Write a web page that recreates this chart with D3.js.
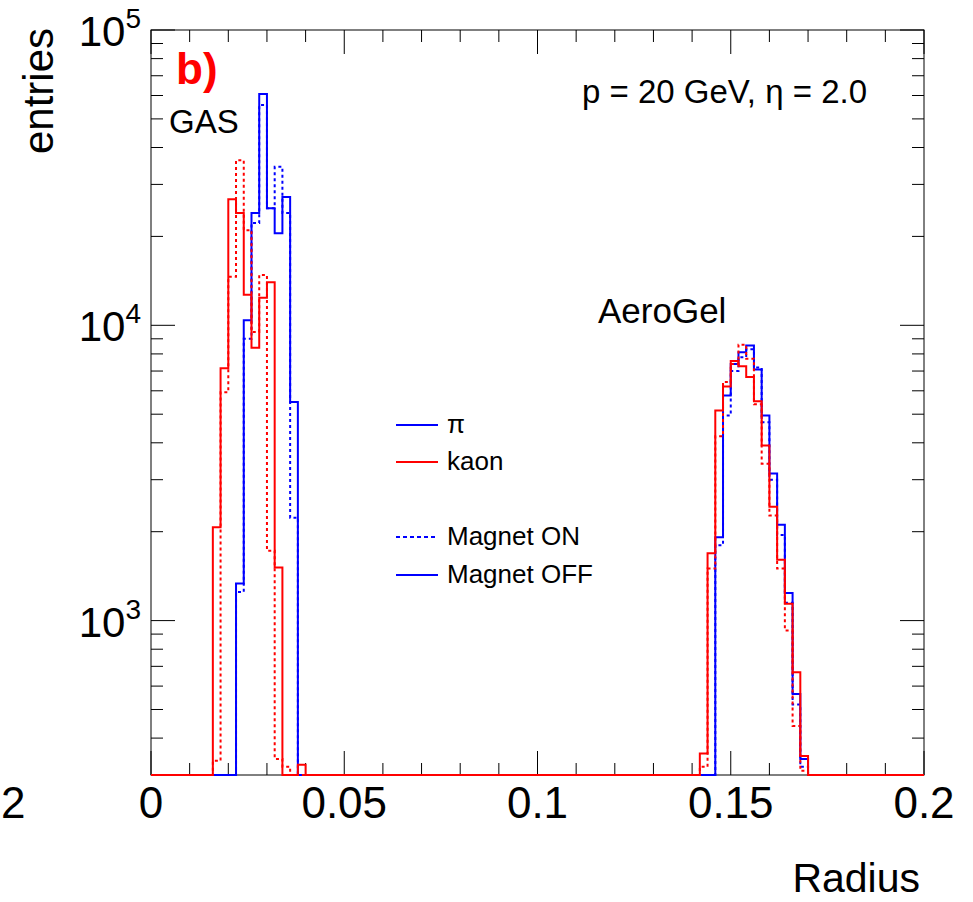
<!DOCTYPE html>
<meta charset="utf-8">
<head>
<script src="https://cdnjs.cloudflare.com/ajax/libs/d3/7.8.5/d3.min.js"></script>
<style>
body { margin:0; background:#fff; }
svg text { font-family: "Liberation Sans", Arial, Helvetica, sans-serif; fill:#000; }
</style>
</head>
<body>
<div id="chart"></div>
<script>
// histogram binning (100 bins of 0.002 from 0 to 0.2)
var binWidth = 0.002;
var nBins = 100;

// GAS ring, first bin starts at 0.016
var gasStart = 0.016;
var gasPiOff   = [0, 0, 0, 1335, 10400, 24000, 60700, 24900, 20500, 27200, 5500, 0];
var gasPiOn    = [0, 0, 0, 1250, 9000, 22200, 55700, 24900, 34400, 24000, 2230, 0];
var gasKaonOff = [2070, 7150, 26700, 24000, 12700, 8400, 12400, 14000, 1514, 0, 0, 325];
var gasKaonOn  = [335, 5930, 14600, 36200, 21000, 9500, 14800, 1725, 340, 320, 0, 0];

// AeroGel ring, first bin starts at 0.142
var aeroStart = 0.142;
var aeroPiOff   = [0, 0, 1915, 5790, 7400, 8100, 8550, 7080, 4950, 3150, 2110, 1240, 564, 340];
var aeroPiOn    = [0, 0, 1800, 4950, 7000, 7800, 8300, 7200, 4700, 3000, 1950, 1150, 520, 320];
var aeroKaonOff = [355, 1690, 5150, 6210, 7570, 7260, 6680, 5530, 3920, 2430, 1607, 1140, 669, 348];
var aeroKaonOn  = [320, 1500, 4210, 6430, 7400, 8600, 7700, 5400, 3400, 2270, 1500, 925, 440, 310];

// axis ticks
var xTickLabels = [0, 0.05, 0.1, 0.15, 0.2];
var yDecades = [3, 4, 5];

var legendLabels = ['\u03c0', 'kaon', 'Magnet ON', 'Magnet OFF'];

var width = 973, height = 902;
var svg = d3.select('#chart').append('svg')
  .attr('width', width)
  .attr('height', height);

var x = d3.scaleLinear().domain([0, 0.2]).range([151, 924]);
var y = d3.scaleLog().domain([300, 1e5]).range([775, 30]);

function fillBins(start1, vals1, start2, vals2) {
  var arr = d3.range(nBins).map(function(){ return 0; });
  var k1 = Math.round(start1 / binWidth), k2 = Math.round(start2 / binWidth);
  vals1.forEach(function(v, i){ arr[k1 + i] = v; });
  vals2.forEach(function(v, i){ arr[k2 + i] = v; });
  return arr;
}

function histPath(vals) {
  var ymin = y.domain()[0];
  var yv = function(v){ return y(Math.max(v, ymin)); };
  var d = 'M' + x(0) + ',' + yv(vals[0]);
  vals.forEach(function(v, i){
    d += 'V' + yv(v) + 'H' + x((i + 1) * binWidth);
  });
  return d;
}

svg.append('clipPath').attr('id', 'frameclip')
  .append('rect')
  .attr('x', x(0) - 1).attr('y', y(1e5))
  .attr('width', x(0.2) - x(0) + 2).attr('height', y(300) - y(1e5) + 2);

var hists = [
  {vals: fillBins(gasStart, gasPiOn, aeroStart, aeroPiOn), color: '#0000ff', dash: '3,3'},
  {vals: fillBins(gasStart, gasPiOff, aeroStart, aeroPiOff), color: '#0000ff', dash: null},
  {vals: fillBins(gasStart, gasKaonOn, aeroStart, aeroKaonOn), color: '#ff0000', dash: '3,3'},
  {vals: fillBins(gasStart, gasKaonOff, aeroStart, aeroKaonOff), color: '#ff0000', dash: null}
];

// frame
svg.append('rect')
  .attr('x', x(0)).attr('y', y(1e5))
  .attr('width', x(0.2) - x(0)).attr('height', y(300) - y(1e5))
  .attr('fill', 'none').attr('stroke', '#000').attr('stroke-width', 1);

// x ticks, bottom and top
var xMinor = d3.range(0, 21).map(function(i){ return i * 0.01; });
var g = svg.append('g').attr('stroke', '#000').attr('stroke-width', 1);
xMinor.forEach(function(t, i){
  var len = (i % 5 === 0) ? 24 : 12;
  g.append('line').attr('x1', x(t)).attr('x2', x(t)).attr('y1', y(300)).attr('y2', y(300) - len);
  g.append('line').attr('x1', x(t)).attr('x2', x(t)).attr('y1', y(1e5)).attr('y2', y(1e5) + len);
});

// y ticks, left and right
y.ticks().forEach(function(t){
  var major = Math.abs(Math.log10(t) - Math.round(Math.log10(t))) < 1e-9;
  var len = major ? 24 : 12;
  g.append('line').attr('x1', x(0)).attr('x2', x(0) + len).attr('y1', y(t)).attr('y2', y(t));
  g.append('line').attr('x1', x(0.2)).attr('x2', x(0.2) - len).attr('y1', y(t)).attr('y2', y(t));
});

// histograms
svg.append('g').attr('clip-path', 'url(#frameclip)')
  .selectAll('path').data(hists).enter().append('path')
  .attr('d', function(d){ return histPath(d.vals); })
  .attr('fill', 'none')
  .attr('stroke', function(d){ return d.color; })
  .attr('stroke-width', 2)
  .attr('stroke-dasharray', function(d){ return d.dash; });

// x tick labels
svg.selectAll('.xlab').data(xTickLabels).enter().append('text')
  .attr('class', 'xlab')
  .attr('x', function(d){ return x(d); })
  .attr('y', 818)
  .attr('text-anchor', 'middle')
  .style('font-size', '44px')
  .text(function(d){ return d; });

// visible end of the neighbouring pad's label
svg.append('text').attr('x', 1).attr('y', 818)
  .style('font-size', '44px').text('2');

// y tick labels 10^n
yDecades.forEach(function(p){
  var t = svg.append('text')
    .attr('x', 141).attr('y', y(Math.pow(10, p)) + 16)
    .attr('text-anchor', 'end')
    .style('font-size', '42px');
  t.append('tspan').text('10');
  t.append('tspan').attr('dy', -18).style('font-size', '28px').text(p);
});

// axis titles
svg.append('text').attr('x', 920).attr('y', 892).attr('text-anchor', 'end')
  .style('font-size', '41px').text('Radius');
svg.append('text')
  .attr('transform', 'translate(53,28) rotate(-90)')
  .attr('text-anchor', 'end')
  .style('font-size', '42px').text('entries');

// annotations
svg.append('text').attr('x', 176).attr('y', 84)
  .style('font-size', '44px').style('font-weight', 'bold').style('fill', '#ff0000').text('b)');
svg.append('text').attr('x', 169).attr('y', 133).style('font-size', '33px').text('GAS');
svg.append('text').attr('x', 598).attr('y', 323).style('font-size', '35px').text('AeroGel');
svg.append('text').attr('x', 582).attr('y', 103).style('font-size', '33px')
  .text('p = 20 GeV, \u03b7 = 2.0');

// legend
var legendRows = [
  {y: 425, color: '#0000ff', dash: null},
  {y: 462, color: '#ff0000', dash: null},
  {y: 537, color: '#0000ff', dash: '4,3'},
  {y: 575, color: '#0000ff', dash: null}
];
var leg = svg.append('g');
legendRows.forEach(function(r, i){
  leg.append('line').attr('x1', 396).attr('x2', 438).attr('y1', r.y).attr('y2', r.y)
    .attr('stroke', r.color).attr('stroke-width', 2).attr('stroke-dasharray', r.dash);
  leg.append('text').attr('x', 447).attr('y', r.y + 8).style('font-size', '26px').text(legendLabels[i]);
});
</script>
</body>
